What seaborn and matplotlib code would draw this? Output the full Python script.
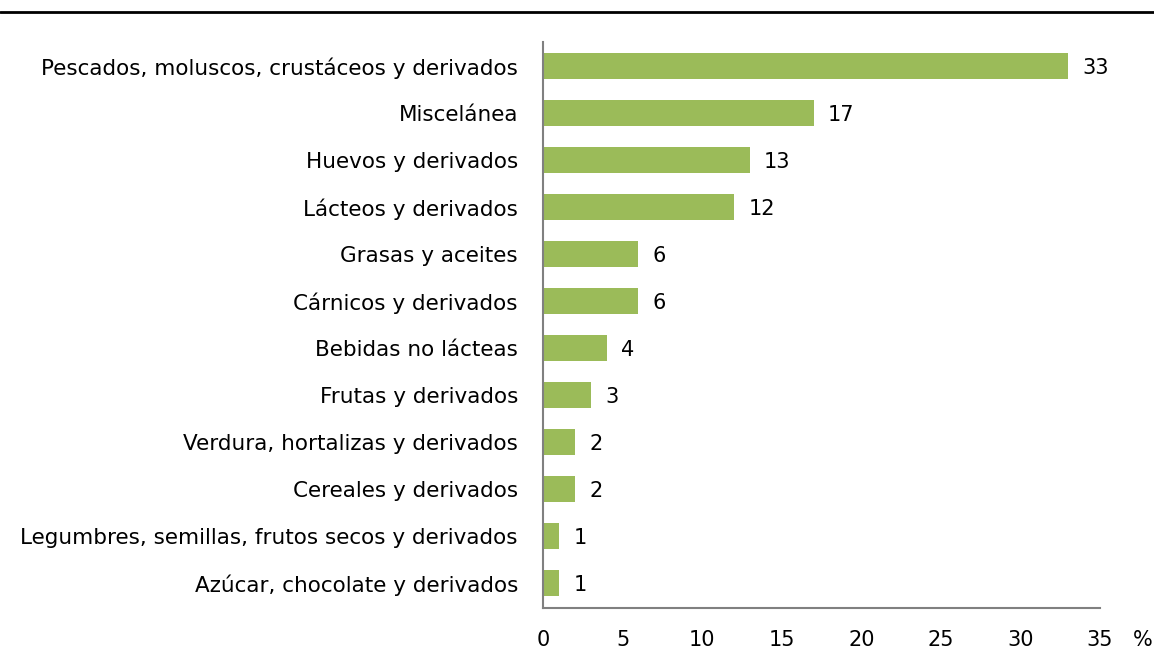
import matplotlib
matplotlib.use("Agg")
import matplotlib.pyplot as plt
import seaborn as sns
import pandas as pd

categorias = [
    "Pescados, moluscos, crustáceos y derivados",
    "Miscelánea",
    "Huevos y derivados",
    "Lácteos y derivados",
    "Grasas y aceites",
    "Cárnicos y derivados",
    "Bebidas no lácteas",
    "Frutas y derivados",
    "Verdura, hortalizas y derivados",
    "Cereales y derivados",
    "Legumbres, semillas, frutos secos y derivados",
    "Azúcar, chocolate y derivados",
]
porcentajes = [33, 17, 13, 12, 6, 6, 4, 3, 2, 2, 1, 1]
ticks_x = [0, 5, 10, 15, 20, 25, 30, 35]

sns.set_theme(style="white")
plt.rcParams["font.family"] = ["DejaVu Sans"]
plt.rcParams["text.color"] = "black"
plt.rcParams["xtick.color"] = "black"
plt.rcParams["ytick.color"] = "black"

df = pd.DataFrame({"categoria": categorias, "porcentaje": porcentajes})

fig = plt.figure(figsize=(11.54, 6.69), dpi=100)
ax = fig.add_axes([0.4705, 0.0912, 0.4827, 0.846])

sns.barplot(data=df, x="porcentaje", y="categoria", color="#9BBB59",
            width=0.55, saturation=1, linewidth=0, ax=ax)

for i, v in enumerate(porcentajes):
    ax.text(v + 0.9, i + 0.05, f"{v}", va="center", ha="left", fontsize=15, color="black")

ax.set_xlim(0, 35)
ax.set_ylim(11.53, -0.51)
ax.set_xticks(ticks_x)
ax.set_xticklabels([str(t) for t in ticks_x], fontsize=15)
ax.tick_params(axis="x", length=0, pad=16)
ax.tick_params(axis="y", length=0, pad=18, labelsize=15.5)
ax.set_xlabel("")
ax.set_ylabel("")

for side in ("top", "right"):
    ax.spines[side].set_visible(False)
for side in ("left", "bottom"):
    ax.spines[side].set_color("#808080")
    ax.spines[side].set_linewidth(1.5)

# unit label after the last tick
ax.text(1.077, -0.0565, "%", transform=ax.transAxes, ha="center", va="center", fontsize=15)

# rule across the top of the page
fig.add_artist(plt.Line2D([0, 1], [1 - 12 / 669, 1 - 12 / 669],
                          transform=fig.transFigure, color="black", linewidth=2))

fig.savefig("out.png", dpi=100)
